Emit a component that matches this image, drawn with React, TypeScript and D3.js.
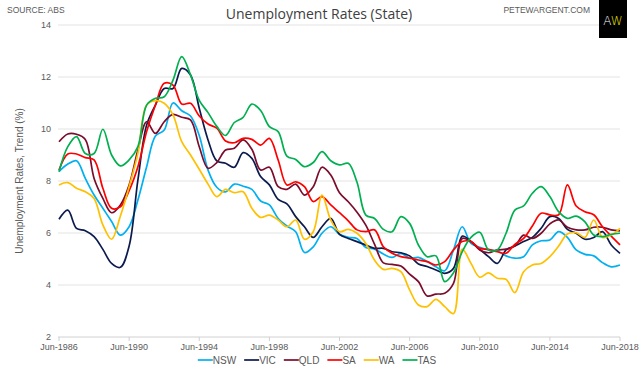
import React, { useEffect, useRef } from "react";
import * as d3 from "d3";

// half-yearly readings (Jun / Dec), Jun-1986 .. Jun-2018
const states = ["NSW", "VIC", "QLD", "SA", "WA", "TAS"];
const colors = ["#00b0f0", "#0c1b4d", "#7b0c2c", "#ff0000", "#ffc000", "#00b050"];
const yTicks = [2, 4, 6, 8, 10, 12, 14];
const xTickYears = [1986, 1990, 1994, 1998, 2002, 2006, 2010, 2014, 2018];

const nsw = [8.36, 8.65, 8.78, 8.1, 7.46, 6.95, 6.44, 5.92, 6.24, 7.27, 8.55, 9.73, 9.96, 11.0, 10.7, 10.5,
  9.75, 8.42, 7.76, 7.58, 7.88, 7.8, 7.68, 7.23, 7.08, 6.56, 6.27, 6.05, 5.25, 5.47, 5.99, 6.24,
  5.95, 5.83, 5.79, 5.44, 5.38, 5.19, 5.06, 5.22, 5.03, 5.06, 4.9, 4.7, 4.55, 5.35, 6.24, 5.6,
  5.45, 5.35, 5.31, 5.12, 5.03, 5.09, 5.54, 5.7, 5.73, 6.05, 5.83, 5.35, 5.18, 5.12, 4.86, 4.7, 4.77];
const vic = [6.53, 6.88, 6.18, 6.09, 5.86, 5.37, 4.83, 4.68, 5.5, 8.04, 10.15, 10.92, 11.56, 11.56, 12.33, 12.08,
  10.8, 9.58, 8.77, 8.68, 8.53, 9.09, 8.87, 8.17, 7.85, 7.29, 7.12, 6.63, 6.24, 5.83, 6.24, 6.56,
  5.95, 5.79, 5.67, 5.54, 5.41, 5.41, 5.28, 5.24, 5.12, 4.81, 4.71, 4.58, 4.45, 4.64, 5.88, 5.67,
  5.37, 5.09, 4.83, 5.35, 5.5, 5.67, 5.83, 6.18, 6.63, 6.56, 6.14, 5.99, 5.76, 5.83, 6.05, 5.54, 5.22];
const qld = [9.51, 9.81, 9.8, 9.6, 8.1, 7.33, 6.78, 7.08, 7.85, 9.19, 10.28, 9.83, 10.28, 10.56, 10.45, 10.35,
  9.32, 8.49, 8.71, 9.19, 9.26, 9.58, 9.22, 8.42, 8.53, 7.78, 7.68, 7.88, 7.46, 7.78, 8.53, 8.23,
  7.55, 7.2, 6.8, 6.3, 5.56, 4.85, 4.79, 4.73, 4.42, 4.13, 3.58, 3.65, 3.68, 4.06, 5.79, 5.67,
  5.35, 5.24, 5.35, 5.38, 5.5, 5.92, 5.79, 5.99, 6.35, 6.5, 6.22, 6.12, 6.12, 6.22, 6.22, 6.12, 6.08];
const sa = [8.42, 9.04, 9.04, 8.9, 8.81, 7.72, 6.95, 7.01, 7.63, 8.55, 9.9, 10.92, 11.76, 11.69, 10.96, 10.99,
  10.5, 10.19, 10.03, 9.54, 9.47, 9.64, 9.6, 9.38, 9.64, 8.81, 7.85, 7.97, 7.78, 7.21, 7.4, 7.08,
  6.78, 6.47, 6.12, 6.05, 6.12, 5.47, 5.22, 5.09, 5.03, 4.96, 4.9, 4.77, 4.9, 5.35, 5.67, 5.67,
  5.41, 5.37, 5.28, 5.22, 5.56, 5.79, 6.27, 6.76, 6.7, 6.7, 7.85, 7.04, 6.82, 6.7, 6.24, 5.88, 5.54];
const wa = [7.85, 7.94, 7.72, 7.59, 7.33, 6.31, 5.76, 6.65, 7.78, 9.06, 10.92, 11.09, 10.99, 10.54, 9.51, 9.0,
  8.45, 7.88, 7.4, 7.68, 7.55, 7.59, 6.95, 6.6, 6.69, 6.5, 6.24, 6.5, 5.76, 6.05, 7.46, 6.5,
  6.05, 6.14, 5.99, 5.6, 4.95, 4.6, 4.64, 4.51, 3.81, 3.23, 3.17, 3.45, 3.17, 2.9, 5.38, 4.83,
  4.3, 4.47, 4.26, 4.22, 3.71, 4.51, 4.77, 4.83, 5.09, 5.5, 5.96, 6.01, 5.83, 6.5, 5.83, 5.92, 6.18];
const tas = [8.36, 9.32, 9.71, 9.06, 9.06, 9.99, 9.0, 8.58, 8.81, 9.32, 10.92, 11.18, 11.24, 11.88, 12.78, 12.08,
  11.1, 10.63, 10.1, 9.75, 10.25, 10.45, 10.96, 10.71, 10.09, 9.9, 8.96, 8.83, 8.55, 8.71, 9.13, 8.78,
  8.62, 8.68, 7.95, 6.69, 6.56, 6.14, 6.05, 6.63, 6.37, 5.54, 5.09, 5.12, 4.13, 4.47, 5.28, 5.83,
  6.03, 5.35, 5.35, 5.99, 6.88, 7.04, 7.53, 7.78, 7.4, 6.82, 6.56, 6.65, 6.43, 5.92, 5.86, 5.95, 5.99];

const seriesValues = [nsw, vic, qld, sa, wa, tas];
const periods = nsw.map((_, i) => new Date(1986 + Math.floor(i / 2), i % 2 === 0 ? 5 : 11, 1));

const App = () => {
  const svgRef = useRef<SVGSVGElement>(null);

  useEffect(() => {
    const svg = d3.select(svgRef.current);
    svg.selectAll("*").remove();

    const width = 640;
    const height = 373;
    const left = 59;
    const right = 620;
    const top = 25;
    const bottom = 337;
    const textColor = "#595959";
    const axisFont = "'Liberation Sans', Arial, sans-serif";

    const x = d3.scaleTime().domain([periods[0], periods[periods.length - 1]]).range([left, right]);
    const y = d3.scaleLinear().domain([2, 14]).range([bottom, top]);

    svg.append("rect").attr("width", width).attr("height", height).attr("fill", "#fff");

    // gridlines
    svg
      .append("g")
      .selectAll("line")
      .data(yTicks)
      .join("line")
      .attr("x1", left - 1)
      .attr("x2", right)
      .attr("y1", (d) => y(d))
      .attr("y2", (d) => y(d))
      .attr("stroke", (d) => (d === 2 ? "#d0d0d0" : "#e3e3e3"))
      .attr("stroke-width", 1);

    svg
      .append("g")
      .selectAll("text")
      .data(yTicks)
      .join("text")
      .attr("x", left - 8)
      .attr("y", (d) => y(d))
      .attr("dy", "0.35em")
      .attr("text-anchor", "end")
      .style("font-family", axisFont)
      .style("font-size", "9px")
      .attr("fill", textColor)
      .text((d) => d);

    // x axis ticks + labels
    const xTicks = xTickYears.map((yr) => new Date(yr, 5, 1));
    const fmt = d3.timeFormat("%b-%Y");
    const xg = svg.append("g");
    xg.selectAll("line")
      .data(xTicks)
      .join("line")
      .attr("x1", (d) => x(d))
      .attr("x2", (d) => x(d))
      .attr("y1", bottom)
      .attr("y2", bottom + 4)
      .attr("stroke", "#d0d0d0");
    xg.selectAll("text")
      .data(xTicks)
      .join("text")
      .attr("x", (d) => x(d))
      .attr("y", bottom + 13)
      .attr("text-anchor", "middle")
      .style("font-family", axisFont)
      .style("font-size", "9px")
      .attr("fill", textColor)
      .text((d) => fmt(d));

    // lines
    const line = d3
      .line<number>()
      .curve(d3.curveCatmullRom.alpha(0.5))
      .x((_, i) => x(periods[i]))
      .y((d) => y(d));

    svg
      .append("g")
      .selectAll("path")
      .data(seriesValues)
      .join("path")
      .attr("d", (d) => line(d))
      .attr("fill", "none")
      .attr("stroke", (_, i) => colors[i])
      .attr("stroke-width", 1.7)
      .attr("stroke-linejoin", "round");

    // titles
    svg
      .append("text")
      .attr("x", 319)
      .attr("y", 19)
      .attr("text-anchor", "middle")
      .style("font-family", "'Open Sans', sans-serif")
      .style("font-size", "14px")
      .attr("fill", "#404040")
      .text("Unemployment Rates (State)");

    svg
      .append("text")
      .attr("x", 7)
      .attr("y", 13)
      .style("font-family", axisFont)
      .style("font-size", "8.5px")
      .attr("fill", textColor)
      .text("SOURCE: ABS");

    svg
      .append("text")
      .attr("x", 590)
      .attr("y", 13)
      .attr("text-anchor", "end")
      .style("font-family", axisFont)
      .style("font-size", "8.5px")
      .attr("fill", textColor)
      .text("PETEWARGENT.COM");

    svg
      .append("text")
      .attr("transform", `translate(23,${(top + bottom) / 2}) rotate(-90)`)
      .attr("text-anchor", "middle")
      .style("font-family", axisFont)
      .style("font-size", "10px")
      .attr("fill", textColor)
      .text("Unemployment Rates, Trend (%)");

    // logo
    svg.append("rect").attr("x", 599).attr("y", 0).attr("width", 28).attr("height", 38).attr("fill", "#000");
    const logo = svg
      .append("text")
      .attr("x", 613)
      .attr("y", 25)
      .attr("text-anchor", "middle")
      .style("font-family", "'DejaVu Sans', sans-serif")
      .style("font-size", "12px")
      .style("font-weight", 300);
    logo.append("tspan").attr("fill", "#fff").text("A");
    logo.append("tspan").attr("fill", "#e6e000").text("W");

    // legend
    const legend = svg.append("g");
    let cursor = 0;
    states.forEach((s, i) => {
      const item = legend.append("g").attr("transform", `translate(${cursor},0)`);
      item
        .append("line")
        .attr("x1", 0)
        .attr("x2", 15)
        .attr("y1", 0)
        .attr("y2", 0)
        .attr("stroke", colors[i])
        .attr("stroke-width", 1.7);
      const t = item
        .append("text")
        .attr("x", 15)
        .attr("dy", "0.35em")
        .style("font-family", axisFont)
        .style("font-size", "10px")
        .attr("fill", textColor)
        .text(s);
      const w = (t.node() as SVGTextElement).getComputedTextLength();
      cursor += 15 + w + 8;
    });
    const legendWidth = cursor - 8;
    legend.attr("transform", `translate(${320 - legendWidth / 2 - 3},360)`);
  }, []);

  return (
    <div style={{ position: "absolute", left: 0, top: 0 }}>
      <svg ref={svgRef} width={640} height={373} />
    </div>
  );
};

export default App;
